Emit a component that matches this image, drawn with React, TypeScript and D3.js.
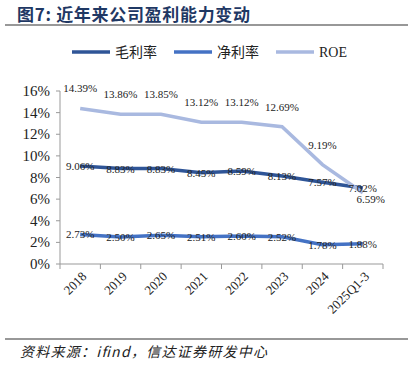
import React, { useRef, useEffect } from 'react';
import * as d3 from 'd3';

const categories = ['2018', '2019', '2020', '2021', '2022', '2023', '2024', '2025Q1-3'];
const grossMargin = [9.06, 8.83, 8.83, 8.45, 8.59, 8.13, 7.57, 7.02];
const netMargin = [2.73, 2.5, 2.65, 2.51, 2.6, 2.52, 1.78, 1.88];
const roe = [14.39, 13.86, 13.85, 13.12, 13.12, 12.69, 9.19, 6.59];
const yTicks = [0, 2, 4, 6, 8, 10, 12, 14, 16];

const seriesList = [
    { name: '毛利率', values: grossMargin, color: '#2f5597', dy: 4 },
    { name: '净利率', values: netMargin, color: '#4472c4', dy: 4 },
    { name: 'ROE', values: roe, color: '#a9b9e0', dy: -16 },
];

const serif = '"Liberation Serif", "Times New Roman", serif';
const cjk = '"Noto Sans CJK SC", sans-serif';

const App: React.FC = () => {
    const svgRef = useRef<SVGSVGElement | null>(null);

    useEffect(() => {
        const svg = d3.select(svgRef.current);
        svg.selectAll('*').remove();

        const width = 413;
        const height = 365;
        svg.attr('width', width).attr('height', height);

        // title
        svg.append('text')
            .attr('x', 17)
            .attr('y', 21)
            .attr('textLength', 233)
            .style('font-family', cjk)
            .style('font-size', '17px')
            .style('font-weight', 'bold')
            .style('fill', '#1f3864')
            .text('图7: 近年来公司盈利能力变动');

        svg.append('line')
            .attr('x1', 5).attr('x2', 408)
            .attr('y1', 25).attr('y2', 25)
            .style('stroke', '#333').style('stroke-width', 1.2);

        const x = d3.scaleBand<string>().domain(categories).range([60, 383]);
        const y = d3.scaleLinear().domain([0, 16]).range([264, 91]);

        // y axis
        svg.append('line')
            .attr('x1', 60).attr('x2', 60).attr('y1', 91).attr('y2', 264)
            .style('stroke', '#999');
        yTicks.forEach(t => {
            svg.append('line')
                .attr('x1', 56).attr('x2', 60).attr('y1', y(t)).attr('y2', y(t))
                .style('stroke', '#999');
            svg.append('text')
                .attr('x', 50)
                .attr('y', y(t) + 5)
                .attr('text-anchor', 'end')
                .style('font-family', serif)
                .style('font-size', '15px')
                .style('fill', '#222')
                .text(`${t}%`);
        });

        // x axis
        svg.append('line')
            .attr('x1', 60).attr('x2', 383).attr('y1', 264).attr('y2', 264)
            .style('stroke', '#999');
        categories.forEach((c, i) => {
            const left = x(c) as number;
            svg.append('line')
                .attr('x1', left).attr('x2', left).attr('y1', 264).attr('y2', 269)
                .style('stroke', '#999');
            if (i === categories.length - 1) {
                svg.append('line')
                    .attr('x1', left + x.bandwidth()).attr('x2', left + x.bandwidth())
                    .attr('y1', 264).attr('y2', 269)
                    .style('stroke', '#999');
            }
            const cx = left + x.bandwidth() / 2 + 4;
            svg.append('text')
                .attr('transform', `translate(${cx},${274}) rotate(-45)`)
                .attr('text-anchor', 'end')
                .attr('dy', '0.35em')
                .style('font-family', serif)
                .style('font-size', '13px')
                .style('fill', '#222')
                .text(c);
        });

        const line = d3.line<number>()
            .x((d, i) => (x(categories[i]) as number) + x.bandwidth() / 2)
            .y(d => y(d));

        seriesList.forEach(s => {
            svg.append('path')
                .datum(s.values)
                .attr('d', line)
                .style('fill', 'none')
                .style('stroke', s.color)
                .style('stroke-width', 3.5);
        });

        seriesList.forEach(s => {
            s.values.forEach((v, i) => {
                let cx = (x(categories[i]) as number) + x.bandwidth() / 2;
                let cy = y(v) + s.dy;
                if (s.name === 'ROE' && i === categories.length - 1) {
                    cx += 8;
                    cy = y(v) + 10;
                }
                svg.append('text')
                    .attr('x', cx)
                    .attr('y', cy)
                    .attr('text-anchor', 'middle')
                    .style('font-family', serif)
                    .style('font-size', '11px')
                    .style('fill', '#222')
                    .text(`${v.toFixed(2)}%`);
            });
        });

        // legend
        const legendX = [72, 174, 276];
        seriesList.forEach((s, i) => {
            svg.append('line')
                .attr('x1', legendX[i]).attr('x2', legendX[i] + 38)
                .attr('y1', 52).attr('y2', 52)
                .style('stroke', s.color)
                .style('stroke-width', 3.5);
            svg.append('text')
                .attr('x', legendX[i] + 43)
                .attr('y', 57)
                .style('font-family', s.name === 'ROE' ? serif : cjk)
                .style('font-size', '14px')
                .style('fill', '#222')
                .text(s.name);
        });

        // source
        svg.append('line')
            .attr('x1', 5).attr('x2', 408)
            .attr('y1', 339).attr('y2', 339)
            .style('stroke', '#333').style('stroke-width', 1.2);
        svg.append('text')
            .attr('x', 20)
            .attr('y', 357)
            .attr('textLength', 247)
            .style('font-family', cjk)
            .style('font-size', '14px')
            .style('font-style', 'italic')
            .style('fill', '#222')
            .text('资料来源：ifind，信达证券研发中心');
    }, []);

    return (
        <div style={{ position: 'absolute', left: 0, top: 0 }}>
            <svg ref={svgRef}></svg>
        </div>
    );
};

export default App;
